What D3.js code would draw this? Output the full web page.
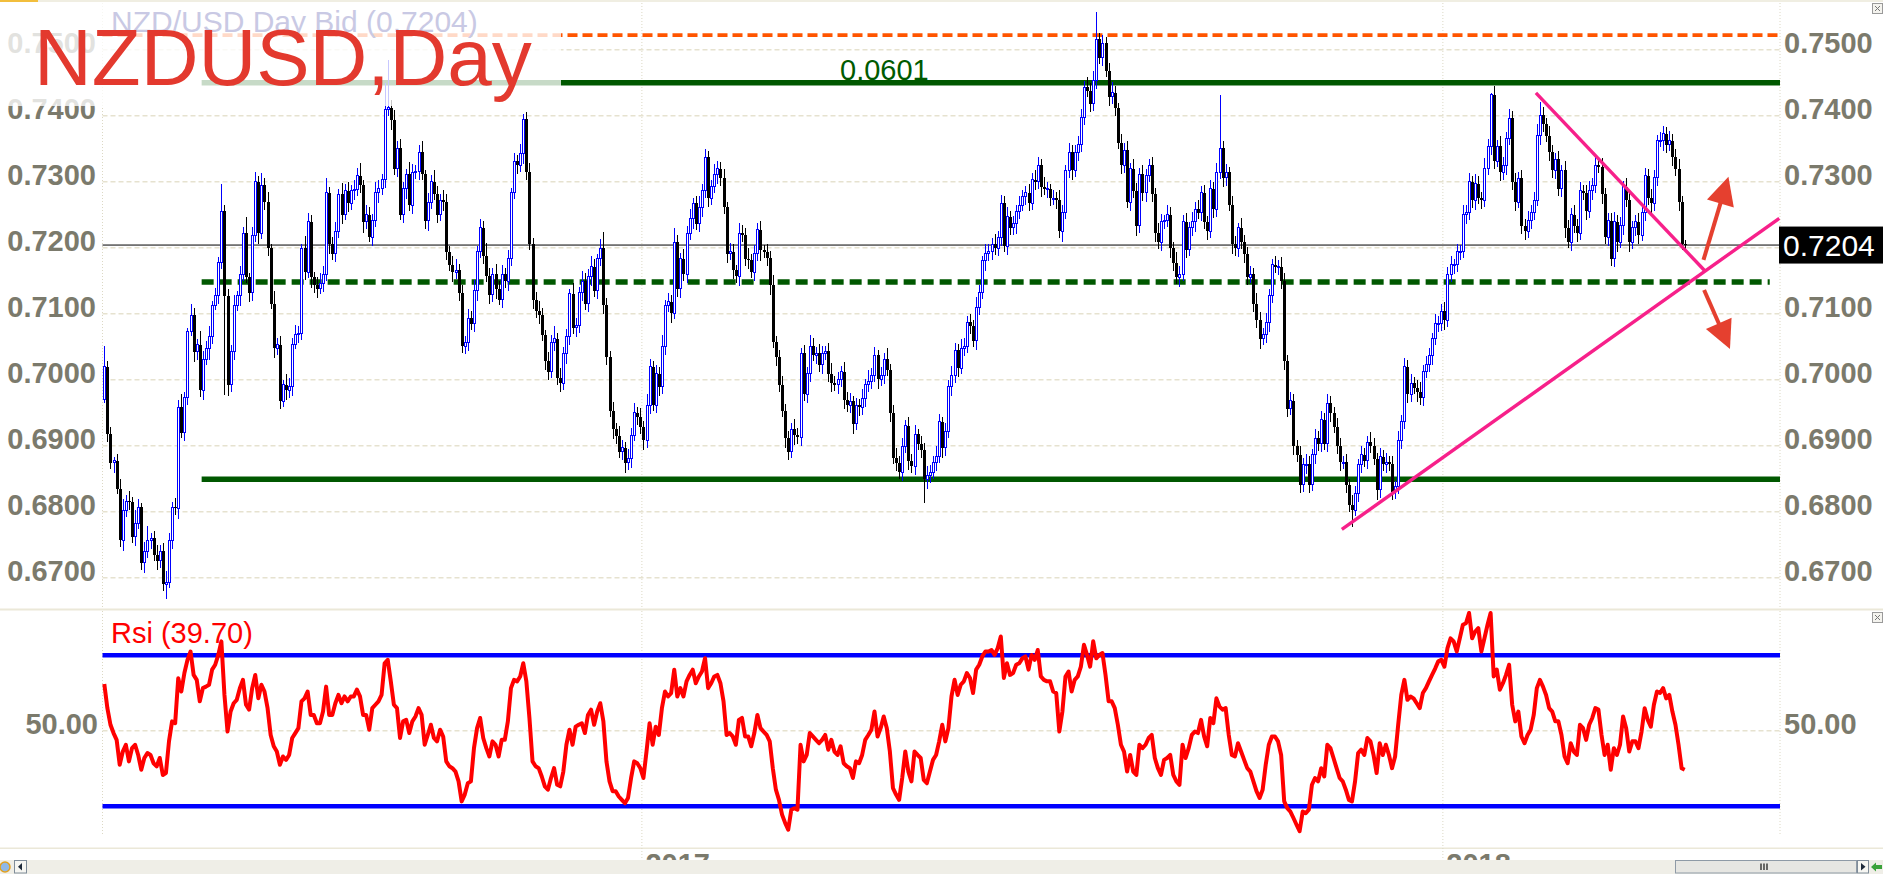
<!DOCTYPE html>
<html lang="en">
  <head>
    <meta charset="utf-8">
    <title>NZDUSD,Day</title>
    <script src="https://d3js.org/d3.v7.min.js"></script>
    <style>
      body { margin: 0; background: #fff; }
      text { font-family: "Liberation Sans", Arial, sans-serif; }
    </style>
  </head>

  <body>

  <script>

// Daily closes in pips (x 10000), left to right

  var closes = [
    7020,6917,6874,6877,6835,6757,6802,6816,6815,6762,6782,6807,6723,6740,6757,6760,6734,6726,6740,6690,
    6692,6757,6807,6805,6958,6920,6973,7073,7098,7042,7053,6984,7031,7048,7065,7113,7127,7177,7255,7127,
    6992,7043,7113,7127,7160,7222,7155,7132,7219,7300,7222,7295,7270,7199,7115,7048,7053,6967,6992,6984,
    6990,7054,7068,7070,7199,7163,7239,7155,7143,7138,7146,7160,7283,7205,7191,7225,7281,7250,7286,7267,
    7286,7288,7309,7295,7239,7250,7216,7241,7283,7289,7303,7410,7412,7393,7320,7351,7250,7289,7311,7264,
    7314,7316,7345,7311,7241,7269,7300,7281,7250,7272,7270,7194,7174,7163,7166,7132,7051,7057,7093,7085,
    7135,7194,7230,7188,7157,7129,7160,7138,7121,7160,7149,7183,7283,7331,7325,7342,7395,7314,7205,7121,
    7104,7098,7068,7029,7012,7057,7062,7003,6995,7040,7065,7130,7079,7082,7132,7149,7115,7157,7171,7135,
    7183,7199,7113,7034,6953,6925,6914,6891,6897,6874,6880,6916,6950,6944,6928,6908,6961,7020,6961,7009,
    6989,7051,7113,7118,7101,7208,7138,7183,7160,7222,7244,7267,7236,7261,7286,7337,7275,7292,7311,7320,
    7306,7261,7191,7194,7166,7157,7222,7220,7183,7181,7163,7191,7227,7196,7194,7185,7143,7057,7034,6992,
    6953,6911,6891,6925,6916,6913,7040,6978,7009,7051,7037,7040,7023,7040,7043,7009,6995,6992,7000,7012,
    6970,6961,6967,6933,6961,6958,6972,6992,6998,7006,7037,7001,7006,7031,7015,6950,6882,6874,6860,6899,
    6930,6877,6869,6917,6903,6894,6849,6855,6860,6875,6883,6936,6897,6922,6989,7006,7045,7017,7048,7051,
    7087,7082,7059,7110,7132,7180,7191,7194,7205,7199,7216,7267,7202,7247,7230,7236,7255,7264,7278,7283,
    7267,7303,7300,7325,7292,7289,7289,7275,7275,7272,7225,7253,7317,7345,7317,7345,7356,7398,7443,7438,
    7418,7454,7516,7488,7510,7468,7429,7435,7412,7359,7325,7348,7269,7320,7286,7233,7311,7283,7309,7325,
    7281,7222,7208,7239,7241,7250,7199,7177,7155,7160,7239,7197,7230,7239,7258,7253,7283,7239,7225,7289,
    7258,7314,7351,7306,7314,7264,7205,7199,7230,7208,7191,7155,7160,7115,7090,7062,7068,7087,7127,7174,
    7171,7171,7149,7029,6956,6968,6900,6886,6841,6872,6872,6841,6886,6911,6903,6939,6903,6964,6950,6928,
    6900,6875,6875,6841,6810,6802,6827,6872,6886,6877,6905,6900,6880,6833,6883,6872,6875,6872,6830,6838,
    6908,6936,7020,6978,6995,6987,6981,6973,7012,7023,7037,7062,7085,7085,7104,7090,7160,7174,7174,7194,
    7194,7250,7253,7300,7272,7297,7275,7272,7320,7354,7432,7331,7354,7314,7325,7365,7396,7300,7269,7305,
    7233,7225,7241,7253,7272,7370,7401,7387,7370,7345,7317,7334,7289,7317,7230,7208,7250,7233,7222,7286,
    7283,7255,7286,7295,7325,7322,7281,7216,7241,7183,7239,7208,7233,7292,7272,7208,7230,7239,7219,7253,
    7309,7275,7267,7306,7362,7362,7373,7356,7362,7337,7320,7269,7205,7204
  ];
  var firstOpen = 6970;

// Wick lengths in pips above / below the body

  var wickUp = [
    31,8,12,6,10,14,18,9,15,7,20,12,6,14,22,8,11,16,9,13,
    18,10,7,14,12,20,9,6,16,11,8,21,13,10,17,7,12,9,42,10,
    11,9,16,8,13,10,24,7,12,15,9,18,11,14,7,20,10,13,8,16,
    12,9,15,11,7,19,14,10,8,13,16,12,22,9,11,14,8,17,10,13,
    9,15,12,20,8,14,11,10,17,13,9,40,73,12,16,10,14,11,8,19,
    13,9,11,16,7,14,10,18,12,9,15,11,8,13,17,10,12,9,14,11,
    16,8,13,10,19,12,9,15,11,14,10,13,8,12,9,15,7,11,14,9,
    12,16,10,8,13,11,19,9,14,10,12,8,17,11,9,15,13,10,16,12,
    8,14,25,11,9,13,10,16,12,8,15,11,14,9,13,10,18,12,9,14,
    11,16,8,13,10,22,12,9,15,11,14,8,12,17,10,13,9,11,16,12,
    10,14,9,13,11,8,15,12,10,17,9,13,11,14,8,12,10,16,9,11,
    14,10,12,9,15,11,8,13,10,16,12,9,14,11,8,13,17,10,12,9,
    15,11,13,8,12,10,14,9,16,11,12,8,13,10,17,9,11,14,10,12,
    9,13,11,15,8,12,10,14,11,9,16,12,8,13,10,15,11,9,14,12,
    10,13,9,15,11,8,14,12,10,16,9,13,11,14,8,12,10,15,9,11,
    13,10,14,12,9,15,11,8,13,10,16,12,9,14,11,10,13,12,9,15,
    11,14,41,10,13,9,12,16,10,8,14,11,13,9,15,12,10,14,11,9,
    13,10,15,12,8,14,11,9,16,12,10,13,9,15,11,14,10,12,9,13,
    11,15,81,10,13,9,14,12,8,15,11,10,13,9,16,12,10,14,11,9,
    13,10,15,12,9,14,11,8,13,10,16,12,9,14,11,13,10,15,12,9,
    14,11,10,13,9,15,12,8,14,11,10,16,12,9,13,11,14,10,12,9,
    15,11,13,10,14,9,12,16,10,13,11,9,15,12,10,14,11,13,9,12,
    10,15,11,13,9,14,12,10,16,11,3,13,9,15,12,10,14,11,13,9,
    12,10,15,11,13,18,20,12,9,14,11,10,13,9,15,12,10,14,11,13,
    9,12,15,11,13,10,14,9,12,11,15,10,13,9,14,12,10,11,13,9,
    12,10,14,11,9,13,12,10,15,11,12,14,9,6
  ];
  var wickDn = [
    5,12,9,15,8,11,17,10,13,9,14,8,12,16,10,13,9,15,11,10,
    22,8,14,10,16,9,13,11,7,15,12,10,14,9,18,11,8,13,10,150,
    16,10,13,9,15,11,8,14,12,10,17,9,13,11,8,15,10,12,9,14,
    11,15,8,13,10,12,9,16,11,14,8,13,10,15,9,12,11,14,8,13,
    10,14,9,12,16,11,8,13,10,15,9,12,11,14,10,13,8,12,15,9,
    13,10,14,9,12,16,11,8,13,10,14,12,9,15,11,13,10,12,14,9,
    12,15,10,13,9,14,11,16,8,12,10,14,11,9,13,10,15,12,9,14,
    11,13,10,15,12,9,14,11,13,10,16,12,9,14,11,13,10,12,15,9,
    13,10,14,11,9,15,12,10,13,16,11,14,9,12,10,15,11,13,9,12,
    14,10,13,11,15,9,12,14,10,13,11,16,9,12,14,10,13,11,9,15,
    12,10,14,9,13,11,15,12,10,14,9,13,11,16,10,12,14,9,13,11,
    10,14,12,9,15,11,13,10,14,12,9,13,11,15,10,12,14,9,13,11,
    14,10,12,15,9,13,11,14,10,12,9,15,11,13,10,14,9,12,11,13,
    10,14,11,13,9,12,36,14,11,10,13,9,15,12,10,14,11,13,9,12,
    11,13,10,14,12,9,15,11,13,10,12,14,9,13,11,10,15,12,9,14,
    12,10,13,11,15,9,14,12,10,13,11,16,9,12,14,10,13,11,12,10,
    13,11,14,10,12,9,15,11,13,10,14,12,9,13,11,15,10,12,14,9,
    12,14,10,13,11,9,15,12,10,14,11,13,9,12,15,10,13,11,14,10,
    13,11,10,14,12,9,15,11,13,10,14,12,9,13,11,15,10,12,14,11,
    10,13,11,15,12,9,14,10,13,11,15,12,9,14,11,13,10,12,14,9,
    12,14,10,13,11,25,9,12,14,10,13,11,9,15,12,10,14,11,13,10,
    11,13,10,14,12,9,15,11,13,10,12,14,9,13,11,15,10,12,14,11,
    13,10,14,11,12,15,9,13,11,10,14,12,9,13,11,15,10,12,14,9,
    12,14,10,13,11,9,15,12,10,14,11,13,10,12,15,9,13,11,14,10,
    11,13,10,14,12,9,15,11,13,10,12,14,9,13,11,15,10,12,14,9,
    12,10,14,11,13,9,15,12,10,13,11,14,9,8
  ];

// RSI values, one per bar

  var rsi = [
    62.4,56,51.6,49.4,47.6,41,44.5,46.3,41.9,45.4,46.3,43.6,39.7,42.8,44.1,43.6,41.4,40.6,42.8,38.3,
    38.8,47.2,52.5,52,63.9,60.4,65.3,68.8,71,64.8,63.5,57.8,61.3,61.7,62.2,66.2,67.5,70.1,73.7,59.5,
    49.8,55.1,57.3,58.2,61.3,63.5,56.9,55.6,61.3,64.8,58.6,62.2,60.4,56,48.9,45.9,44.5,41,43.2,42.3,
    43.6,48.1,49.4,50.7,57.8,58.6,60.4,54.2,54.2,52,52,55.1,61.7,54.2,54.2,57.3,59.5,57.3,59.1,57.8,
    59.1,59.1,60.9,59.1,54.2,54.2,50.3,56,56.9,57.8,59.5,67.9,68.8,63.1,56.9,56,48.1,52.5,52.9,49.4,
    52.5,53.8,56,54.2,46.3,48.9,51.6,48.1,47.2,50.3,48.5,41.9,40.6,40.1,39.2,36.6,31.3,33.1,36.1,36.6,
    45.4,50.7,53.4,48.1,45.4,43.2,47.2,46.3,43.2,47.6,47.6,52.5,61.3,63.5,63.1,64.4,67.9,63.1,53.4,41.9,
    40.6,40.1,37.9,35.3,34.4,37.5,40.1,35.7,35.3,39.2,46.3,50.3,46.3,51.1,51.6,52,49.4,54.2,55.6,51.6,
    55.1,57.3,52.5,41.9,36.6,34,34,32.6,31.7,30.8,32.2,37.5,41.9,41.4,40.1,37.5,44.5,52,46.3,51.1,
    48.9,56,60.4,59.1,60,66.2,59.1,61.3,59.1,63.1,64.8,66.2,62.6,64.4,65.7,69.2,61.3,62.6,64.4,64.8,
    62.6,57.8,48.9,49.4,48.5,46.3,52.9,53.4,48.5,48.5,45.9,49.4,54.2,50.7,49.8,48.9,47.2,40.1,34.4,31.7,
    27.8,25.6,23.8,29.1,29.5,29.1,46.3,41.9,43.6,49.4,48.5,47.6,46.7,47.6,48.9,45,47.6,44.5,43.6,45.9,
    41.4,40.6,40.1,37.5,41.9,41.4,43.6,47.6,48.9,50.3,55.1,48.5,50.7,53.8,50.7,44.5,34.8,33.1,31.7,37.5,
    44.5,39.2,36.6,44.5,43.6,42.8,37,36.1,39.2,42.3,43.6,47.2,51.6,47.2,50.7,59.1,63.5,59.5,62.2,63.1,
    65.3,64,60,66.2,67.5,69.7,71,71,71.4,70.1,71.9,75,64,67.9,64.8,65.3,67.5,67.9,69.2,69.7,
    66.2,70.1,68.8,71.4,64.4,63.5,63.1,63.1,60.4,60,49.8,55.1,64.4,65.7,60.4,63.5,64.4,67,72.8,70.1,
    67,73.7,69.2,70.1,70.6,64.8,57.8,57.8,56,51.6,46.3,44.5,39.2,43.6,39.2,38.3,46.3,45.4,46.3,48.1,
    48.9,42.8,40.1,38.3,42.3,42.8,43.6,38.3,36.6,35.7,46.3,42.8,45.4,48.9,49.8,49.4,52.9,48.5,45.9,53.4,
    52,58.6,56.4,55.6,56,48.9,43.6,43.2,46.7,44.5,42.3,40.1,39.2,36.6,34,32.2,34.4,41,46.3,48.5,
    48.5,47.2,43.6,31.3,29.5,28.6,26.9,25.1,23.4,28.6,28.2,29.1,35.7,37.5,36.6,40.1,37.9,46.3,45.4,42.8,
    40.1,37.5,36.6,34.4,31.7,31.3,36.6,44.1,45,43.6,48.1,47.2,43.6,38.8,46.7,43.6,46.3,43.6,40.1,43.2,
    51.6,59.5,63.5,58.2,59.1,58.6,57.3,56,60,61.3,63.1,64.8,66.5,68.4,68.8,67,71.9,74.5,73.7,71,
    74.5,78.1,78.5,81.2,74.5,76.3,77.2,71,74.5,78.1,81.2,64.4,66.2,60.9,62.6,64.8,67.5,56.9,52.5,55.1,
    48.5,46.7,48.9,50.3,54.2,61.3,63.5,61.7,59.5,56,55.1,52.5,52.5,48.9,43.2,41.4,46.7,44.5,43.6,51.6,
    50.7,47.6,51.6,53.4,56,55.6,48.9,43.6,46.3,39.7,45.4,43.6,46.3,53.8,50.7,44.5,47.2,47.2,45.4,49.8,
    56,52.9,51.1,56.9,60.4,60,61.3,58.6,59.5,55.1,51.6,46.3,40.1,39.70
  ];

// Axis ticks and labels

  var priceTicks = [0.75, 0.74, 0.73, 0.72, 0.71, 0.70, 0.69, 0.68, 0.67];
  var rsiTicks = [50];
  var rsiBands = [70, 30];
  var yearLabels = ["2017", "2018"];
  var yearFirstBar = [175, 435];

// Drawn levels and lines (bar index, price)

  var resistLevel = 0.7522;
  var rangeTop = 0.7450;
  var rangeBottom = 0.6849;
  var midLevel = 0.7148;
  var rangeStartBar = 31.6;
  var midEndBar = 540.6;
  var fallLine = [[464.7, 0.74345], [519.6, 0.71647]];
  var riseLine = [[401.7, 0.67732], [543.7, 0.72445]];
  var upArrow = [[519.1, 0.71815], [527.2, 0.73076]];
  var downArrow = [[519.3, 0.71360], [527.7, 0.70465]];

// Layout

  var w = 1883;
  var h = 874;
  var plotLeft = 102.5;
  var plotRight = 1780;
  var mainTop = 3, mainBottom = 608;
  var rsiTop = 611, rsiBottom = 835;
  var labelColor = "#7b7a6c";
  var gridColor = "#e6e2cf";

  var svg = d3.select("body")
    .append("svg")
      .attr("width", w)
      .attr("height", h);

  var x = d3.scaleLinear()
      .domain([0, closes.length - 1])
      .range([104.3, 1684.7]);

  var y = d3.scaleLinear()
      .domain([0.67, 0.75])
      .range([577.7, 49.7]);

  var yR = d3.scaleLinear()
      .domain([30, 70])
      .range([806.3, 655.3]);

  var lastClose = closes[closes.length - 1] / 1e4;
  var fmt4 = d3.format(".4f");

// Frame lines

  svg.append("rect").attr("x", 0).attr("y", 0).attr("width", 38).attr("height", 2)
      .attr("fill", "#f2be3c");
  [1, 609.5, 848.3].forEach(function (yy, i) {
    svg.append("line")
        .attr("x1", i ? 0 : 38).attr("x2", w)
        .attr("y1", yy).attr("y2", yy)
        .attr("stroke", "#ebe8d8")
        .attr("stroke-width", i == 1 ? 2 : 1.5);
  });

// Grid

  var grid = svg.append("g");

  grid.selectAll(".hp")
      .data(priceTicks)
    .enter().append("line")
      .attr("x1", plotLeft).attr("x2", plotRight)
      .attr("y1", d => y(d)).attr("y2", d => y(d))
      .attr("stroke", gridColor)
      .attr("stroke-width", 1.6)
      .attr("stroke-dasharray", "5,3");

  grid.selectAll(".hr")
      .data(rsiTicks)
    .enter().append("line")
      .attr("x1", plotLeft).attr("x2", plotRight)
      .attr("y1", d => yR(d)).attr("y2", d => yR(d))
      .attr("stroke", gridColor)
      .attr("stroke-width", 1.6)
      .attr("stroke-dasharray", "5,3");

  var vx = [plotLeft].concat(yearFirstBar.map(b => x(b - 0.5)), [plotRight]);
  vx.forEach(function (xx, i) {
    var isYear = i > 0 && i < vx.length - 1;
    [[mainTop, mainBottom], [rsiTop, isYear ? 860 : rsiBottom]].forEach(function (r) {
      grid.append("line")
          .attr("x1", xx).attr("x2", xx)
          .attr("y1", r[0]).attr("y2", r[1])
          .attr("stroke", "#dcd8c4")
          .attr("stroke-width", 1)
          .attr("stroke-dasharray", "1,2");
    });
  });

// Last price line

  svg.append("line")
      .attr("x1", plotLeft).attr("x2", plotRight)
      .attr("y1", y(lastClose)).attr("y2", y(lastClose))
      .attr("stroke", "#000")
      .attr("stroke-width", 1);

// Levels

  svg.append("line")
      .attr("x1", plotLeft).attr("x2", plotRight)
      .attr("y1", y(resistLevel)).attr("y2", y(resistLevel))
      .attr("stroke", "#ff5500").attr("stroke-width", 3.8)
      .attr("stroke-dasharray", "10,5");

  svg.append("line")
      .attr("x1", x(rangeStartBar)).attr("x2", plotRight)
      .attr("y1", y(rangeTop)).attr("y2", y(rangeTop))
      .attr("stroke", "#005800").attr("stroke-width", 5.5);

  svg.append("line")
      .attr("x1", x(rangeStartBar)).attr("x2", plotRight)
      .attr("y1", y(rangeBottom)).attr("y2", y(rangeBottom))
      .attr("stroke", "#005800").attr("stroke-width", 5.5);

  svg.append("line")
      .attr("x1", x(rangeStartBar)).attr("x2", x(midEndBar))
      .attr("y1", y(midLevel)).attr("y2", y(midLevel))
      .attr("stroke", "#005800").attr("stroke-width", 5.3)
      .attr("stroke-dasharray", "12,6");

// Candles

  var bars = closes.map(function (c, i) {
    var o = i ? closes[i - 1] : firstOpen;
    return {
      i: i,
      open: o / 1e4,
      close: c / 1e4,
      high: (Math.max(o, c) + (wickUp[i] || 0)) / 1e4,
      low: (Math.min(o, c) - (wickDn[i] || 0)) / 1e4
    };
  });

  var px = d => Math.round(x(d.i));
  var isUp = d => d.close >= d.open;

  var candle = svg.append("g")
      .attr("shape-rendering", "crispEdges")
    .selectAll("g")
      .data(bars)
    .enter().append("g");

  candle.append("line")
      .attr("x1", d => px(d) + 0.5).attr("x2", d => px(d) + 0.5)
      .attr("y1", d => y(d.high)).attr("y2", d => y(d.low))
      .attr("stroke", d => isUp(d) ? "#0000ff" : "#000")
      .attr("stroke-width", 1);

  candle.append("rect")
      .attr("x", d => isUp(d) ? px(d) - 0.5 : px(d) - 1)
      .attr("width", d => isUp(d) ? 2 : 3)
      .attr("y", d => y(Math.max(d.open, d.close)))
      .attr("height", d => Math.max(1, y(Math.min(d.open, d.close)) - y(Math.max(d.open, d.close))))
      .attr("fill", d => isUp(d) ? "#fff" : "#000")
      .attr("stroke", d => isUp(d) ? "#0000ff" : "none")
      .attr("stroke-width", 1);

// Trend lines and arrows

  var toXY = p => [x(p[0]), y(p[1])];

  [fallLine, riseLine].forEach(function (ln) {
    svg.append("path")
        .attr("d", d3.line()(ln.map(toXY)))
        .attr("stroke", "#f7208a")
        .attr("stroke-width", 3.4)
        .attr("fill", "none");
  });

  [upArrow, downArrow].forEach(function (ar) {
    var a = toXY(ar[0]), b = toXY(ar[1]);
    var dx = b[0] - a[0], dy = b[1] - a[1];
    var len = Math.sqrt(dx * dx + dy * dy);
    var ux = dx / len, uy = dy / len;
    var hl = 28, hw = 14;
    var bx = b[0] - ux * hl, by = b[1] - uy * hl;
    svg.append("line")
        .attr("x1", a[0]).attr("y1", a[1])
        .attr("x2", bx + ux * 4).attr("y2", by + uy * 4)
        .attr("stroke", "#e5402f")
        .attr("stroke-width", 4);
    svg.append("path")
        .attr("d", "M" + b[0] + "," + b[1] +
          "L" + (bx - uy * hw) + "," + (by + ux * hw) +
          "L" + (bx + uy * hw) + "," + (by - ux * hw) + "Z")
        .attr("fill", "#e5402f");
  });

// Price axis labels

  var axisText = svg.append("g")
      .attr("font-size", 29)
      .attr("font-weight", "bold")
      .attr("fill", labelColor);

  axisText.selectAll(".lp")
      .data(priceTicks)
    .enter().append("text")
      .attr("x", 96)
      .attr("y", d => y(d) + 3.5)
      .attr("text-anchor", "end")
      .text(d => fmt4(d));

  axisText.selectAll(".rp")
      .data(priceTicks)
    .enter().append("text")
      .attr("x", 1784)
      .attr("y", d => y(d) + 3.5)
      .text(d => fmt4(d));

  axisText.selectAll(".lr")
      .data(rsiTicks)
    .enter().append("text")
      .attr("x", 98)
      .attr("y", d => yR(d) + 3.5)
      .attr("text-anchor", "end")
      .text(d => d3.format(".2f")(d));

  axisText.selectAll(".rr")
      .data(rsiTicks)
    .enter().append("text")
      .attr("x", 1784)
      .attr("y", d => yR(d) + 3.5)
      .text(d => d3.format(".2f")(d));

  axisText.selectAll(".yr")
      .data(yearLabels)
    .enter().append("text")
      .attr("x", (d, i) => x(yearFirstBar[i] - 0.5) + 3.5)
      .attr("y", 873.5)
      .text(d => d);

// Last price box

  svg.append("rect")
      .attr("x", 1779).attr("y", y(lastClose) - 18.5)
      .attr("width", w - 1779).attr("height", 37)
      .attr("fill", "#000");
  svg.append("text")
      .attr("x", 1783).attr("y", y(lastClose) + 11)
      .attr("font-size", 30)
      .attr("fill", "#fff")
      .text(fmt4(lastClose));

// Range size label

  svg.append("text")
      .attr("x", 840).attr("y", y(rangeTop) - 3)
      .attr("font-size", 29)
      .attr("fill", "#005a00")
      .text(fmt4(rangeTop - rangeBottom));

// RSI panel

  rsiBands.forEach(function (v) {
    svg.append("line")
        .attr("x1", plotLeft).attr("x2", plotRight)
        .attr("y1", yR(v)).attr("y2", yR(v))
        .attr("stroke", "#0000ff")
        .attr("stroke-width", 4.5);
  });

  svg.append("path")
      .datum(rsi)
      .attr("d", d3.line().x((d, i) => x(i)).y(d => yR(d)))
      .attr("fill", "none")
      .attr("stroke", "#ff0000")
      .attr("stroke-width", 4)
      .attr("stroke-linejoin", "round");

  svg.append("text")
      .attr("x", 111).attr("y", 643)
      .attr("font-size", 29)
      .attr("fill", "#ff0000")
      .text("Rsi (" + d3.format(".2f")(rsi[rsi.length - 1]) + ")");

// Title area

  svg.append("rect")
      .attr("x", 0).attr("y", 2)
      .attr("width", 561).attr("height", 104)
      .attr("fill", "#fff")
      .attr("fill-opacity", 0.78);

  svg.append("text")
      .attr("x", 111).attr("y", 32)
      .attr("font-size", 30)
      .attr("fill", "#c9c9e4")
      .text("NZD/USD Day Bid (" + fmt4(lastClose) + ")");

  svg.append("text")
      .attr("x", 34).attr("y", 85)
      .attr("font-size", 80)
      .attr("fill", "#e3392e")
      .text("NZDUSD,Day");

// Close boxes

  [[1872, 3], [1872, 612]].forEach(function (p) {
    var g = svg.append("g").attr("transform", "translate(" + p[0] + "," + p[1] + ")");
    g.append("rect").attr("x", 0.5).attr("y", 0.5).attr("width", 10).attr("height", 10)
        .attr("fill", "#f4f3ee").attr("stroke", "#9a9a9a");
    g.append("path").attr("d", "M3,3L8,8M8,3L3,8").attr("stroke", "#777").attr("stroke-width", 1);
  });

// Scroll bar

  svg.append("rect")
      .attr("x", 0).attr("y", 860)
      .attr("width", w).attr("height", 14)
      .attr("fill", "#efeee7");
  svg.append("circle").attr("cx", 5).attr("cy", 867).attr("r", 5)
      .attr("fill", "#8fb8e8").attr("stroke", "#e0a020").attr("stroke-width", 1.5);
  svg.append("rect").attr("x", 14.5).attr("y", 860.5).attr("width", 12).attr("height", 12.5)
      .attr("fill", "#f6f6f2").attr("stroke", "#7f8c99");
  svg.append("path").attr("d", "M18,866.8L22,863L22,870.5Z").attr("fill", "#1e2a3a");
  svg.append("rect").attr("x", 1675.5).attr("y", 860.5).attr("width", 181).attr("height", 12.5)
      .attr("fill", "#e6e6e2").attr("stroke", "#8e9aa6");
  [1761, 1764, 1767].forEach(function (gx) {
    svg.append("line").attr("x1", gx).attr("x2", gx).attr("y1", 863.5).attr("y2", 870)
        .attr("stroke", "#111").attr("stroke-width", 1.2);
  });
  svg.append("rect").attr("x", 1857.5).attr("y", 860.5).attr("width", 11).attr("height", 12.5)
      .attr("fill", "#f6f6f2").attr("stroke", "#7f8c99");
  svg.append("path").attr("d", "M1861,863L1865.5,866.8L1861,870.5Z").attr("fill", "#1e2a3a");
  svg.append("path").attr("d", "M1871,867L1876,862.5L1876,865L1882,865L1882,869L1876,869L1876,871.5Z")
      .attr("fill", "#3aa23a");

  </script>

  </body>

</html>
